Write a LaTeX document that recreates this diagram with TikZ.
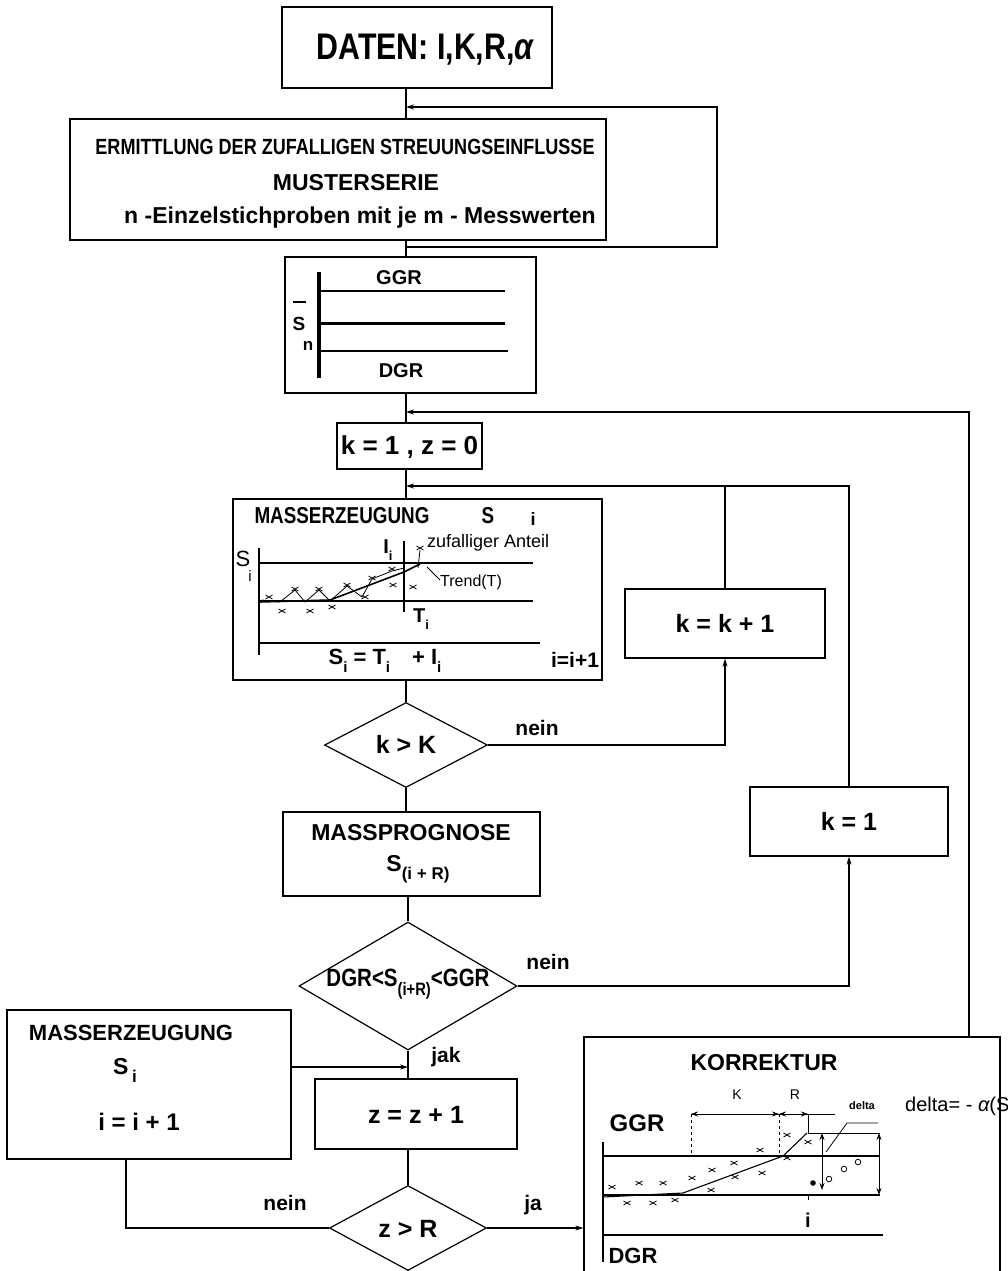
\documentclass[tikz,border=0pt]{standalone}
\usepackage{fontspec}
\setmainfont{Liberation Sans}
\newfontfamily\cf{Liberation Sans}[FakeStretch=0.82]
\usetikzlibrary{shapes.geometric,arrows.meta}
\newcommand\myfs[1]{\fontsize{#1}{#1}\selectfont}
\newcommand\sbi[1]{\raisebox{-0.35em}{\myfs{#1}i}}
\begin{document}
\begin{tikzpicture}[x=1pt,y=-1pt,line join=miter,
  box/.style={draw,line width=1.3pt,inner sep=0pt,rectangle},
  dia/.style={draw,diamond,line width=1.2pt,inner sep=0pt,aspect=2},
  ln/.style={line width=1.1pt},
  thin/.style={line width=0.8pt},
  arr/.style={line width=1.1pt,-{Stealth[length=8pt,width=5pt]}},
  dim/.style={line width=0.9pt,{Stealth[length=7pt,width=5pt]}-{Stealth[length=7pt,width=5pt]}},
  tc/.style={inner sep=0pt,font=\cf\bfseries\myfs{#1}},
  tn/.style={inner sep=0pt,font=\bfseries\myfs{#1}},
  tr/.style={inner sep=0pt,font=\myfs{#1}},
  cr/.style={line width=0.8pt}]
\useasboundingbox (0,0) rectangle (1007,1271);
\fill[white] (0,0) rectangle (1007,1271);

% spine and junction coordinates
\coordinate (sp) at (406,0);
\coordinate (j1) at (406,107);
\coordinate (j0) at (406,247);
\coordinate (lp) at (717,0);
\coordinate (j2) at (406,412);
\coordinate (rx) at (969,0);
\coordinate (j3) at (406,486);
\coordinate (j4) at (408,1067);
\coordinate (lx) at (126,0);

% ---------- boxes ----------
\node[box,minimum width=270pt,minimum height=81pt] (daten) at (417,47.5) {};
\node[tc=37] (tdaten) at (425,50) {DATEN: I,K,R,{\itshape α}};

\node[box,minimum width=536pt,minimum height=121pt] (ermit) at (338,179.5) {};
\node[tc=22] (e1) at (345,147) {ERMITTLUNG DER ZUFALLIGEN STREUUNGSEINFLUSSE};
\node[tn=23] (e2) at (356,183) {MUSTERSERIE};
\node[tn=23] (e3) at (360,218) {n -Einzelstichproben mit je m - Messwerten};

\node[box,minimum width=251pt,minimum height=136pt] (chart) at (410.5,325) {};
\draw[line width=3.5pt] (319,272) -- (319,378);
\draw[ln] (320,291) -- (505,291);
\draw[line width=3pt] (320,323) -- (505,323);
\draw[ln] (320,351) -- (508,351);
\node[tn=20] (cg) at (399,278) {GGR};
\node[tn=20] (cd) at (401,371) {DGR};
\node[tn=19] (cs) at (299,324) {S};
\draw[line width=1.2pt] (293,302) -- (306,302);
\node[tn=17] (cn) at (308,346) {n};

\node[box,minimum width=145pt,minimum height=46pt] (k1z0) at (409.5,446) {};
\node[tn=26] (tk1z0) at (409.5,447) {k = 1 , z = 0};

\node[box,minimum width=369pt,minimum height=181pt] (mass1) at (417.5,589.5) {};
\node[tc=23] (m1a) at (342,516) {MASSERZEUGUNG};
\node[tc=23] (m1b) at (488,516) {S};
\node[tn=18] (m1c) at (533,519) {i};
% inner chart
\draw[ln] (259,548) -- (259,655);
\draw[ln] (259,563) -- (533,563);
\draw[ln] (259,601) -- (533,601);
\draw[ln] (259,643) -- (540,643);
\draw[ln] (404,541) -- (404,612);
\draw[line width=1.6pt] (259,602) -- (330,600) -- (404,572) -- (420,564);
\draw[thin] (262,600) -- (280,602) -- (295,590) -- (305,602) -- (319,590) -- (330,601) -- (347,586) -- (362,597) -- (372,579) -- (392,571) -- (404,568);
\draw[thin] (440,580) -- (427,567);
\draw[thin] (420,550) -- (418,568);
\foreach \p in {(269,597),(282,611),(295,589),(310,611),(319,589),(332,607),(347,585),(365,597),(372,578),(392,569),(393,585),(413,587),(420,548)}
  \draw[cr] \p +(-3.5,-2) -- +(3.5,2) \p +(-3.5,2) -- +(3.5,-2);
\node[tr=22] (msS) at (243,559) {S};
\node[tr=15] (msi) at (250,576) {i};
\node[tn=20] (mI) at (388,550) {I\sbi{13}};
\node[tn=20] (mT) at (421,619) {T\sbi{13}};
\node[tr=18,anchor=west] (mz) at (427,543) {zufalliger Anteil};
\node[tr=16,anchor=west] (mtr) at (440,582) {Trend(T)};
\node[tn=22] (meq) at (385,661) {S\sbi{15} = T\sbi{15}\quad + I\sbi{15}};
\node[tn=21] (mii) at (575,660) {i=i+1};

\node[box,minimum width=200pt,minimum height=69pt] (kk1) at (725,623.5) {};
\node[tn=25] (tkk1) at (725,623) {k = k + 1};

\node[dia,minimum width=163pt,minimum height=85pt] (kK) at (406,745) {};
\node[tn=25] (tkK) at (406,744) {k > K};
\node[tn=21] (nein1) at (537,728) {nein};

\node[box,minimum width=257pt,minimum height=84pt] (mp) at (411.5,854) {};
\node[tn=23] (mpa) at (411,833) {MASSPROGNOSE};
\node[tn=23] (mpb) at (418,869) {S\raisebox{-0.35em}{\myfs{17}(i + R)}};

\node[box,minimum width=198pt,minimum height=69pt] (kone) at (849,821.5) {};
\node[tn=25] (tkone) at (849,821) {k = 1};

\node[dia,minimum width=218pt,minimum height=128pt] (dgr) at (408,986) {};
\node[tc=25] (tdgr) at (408,984) {DGR<S\raisebox{-0.35em}{\myfs{18}(i+R)}<GGR};
\node[tn=21] (nein2) at (548,962) {nein};

\node[box,minimum width=284pt,minimum height=149pt] (lbox) at (149,1084.5) {};
\node[tn=22] (la) at (131,1033) {MASSERZEUGUNG};
\node[tn=23] (lb) at (125,1070) {S\,\sbi{17}};
\node[tn=24] (lc) at (139,1122) {i = i + 1};

\node[tn=21] (jak) at (446,1057) {jak};

\node[box,minimum width=202pt,minimum height=70pt] (zz) at (416,1114) {};
\node[tn=25] (tzz) at (416,1115) {z = z + 1};

\node[dia,minimum width=157pt,minimum height=85pt] (zR) at (408,1228) {};
\node[tn=25] (tzR) at (408,1229) {z > R};
\node[tn=21] (nein3) at (285,1203) {nein};
\node[tn=21] (ja) at (533,1205) {ja};

% ---------- KORREKTUR ----------
\node[box,minimum width=416pt,minimum height=253pt] (korr) at (792,1163.5) {};
\node[tn=23] (kt) at (764,1063) {KORREKTUR};
\node[tr=14] (kK1) at (737,1095) {K};
\node[tr=14] (kR1) at (795,1095) {R};
\node[tn=24] (kg) at (637,1123) {GGR};
\node[tn=22] (kd) at (633,1256) {DGR};
\node[tn=20] (ki) at (808,1220) {i};
\node[tn=11] (kdl) at (862,1106) {delta};
\node[tr=20,anchor=west] (kdf) at (905,1106) {delta= - {\itshape α}(S};
\draw[thin] (691,1114) -- (835,1114);
\draw[dim] (691,1114) -- (779,1114);
\draw[dim] (779,1114) -- (808,1114);
\draw[thin,dashed] (691,1114) -- (691,1155);
\draw[thin,dashed] (779,1114) -- (779,1155);
\draw[thin] (808,1114) -- (808,1133);
\draw[ln] (603,1142) -- (603,1262);
\draw[ln] (603,1156) -- (880,1156);
\draw[ln] (603,1195) -- (880,1195);
\draw[ln] (603,1235) -- (883,1235);
\draw[thin] (808,1133) -- (880,1133);
\draw[dim] (822,1133) -- (822,1190);
\draw[dim] (879,1133) -- (879,1195);
\draw[thin] (808,1195) -- (808,1200);
\draw[ln] (603,1197) -- (683,1193) -- (783,1156) -- (807,1133);
\draw[thin] (826,1152) -- (847,1123) -- (878,1123);
\foreach \p in {(612,1187),(639,1183),(663,1183),(692,1178),(712,1170),(734,1163),(735,1177),(762,1173),(760,1150),(711,1190),(787,1158),(787,1135),(808,1142),(627,1203),(653,1203),(675,1200)}
  \draw[cr] \p +(-3.5,-2) -- +(3.5,2) \p +(-3.5,2) -- +(3.5,-2);
\fill (813,1183) circle (2.8pt);
\foreach \p in {(829,1179),(844,1169),(858,1162)}
  \draw[thin] \p circle (2.8pt);

% ---------- connectors ----------
\draw[ln] (daten.south -| sp) -- (ermit.north -| sp);
\draw[arr] (j0) -- (j0 -| lp) -- (lp |- j1) -- (j1);
\draw[ln] (ermit.south -| sp) -- (j0);
\draw[ln] (j0) -- (chart.north -| sp);
\draw[ln] (chart.south -| sp) -- (k1z0.north -| sp);
\draw[arr] (korr.north -| rx) -- (rx |- j2) -- (j2);
\draw[ln] (k1z0.south -| sp) -- (mass1.north -| sp);
\draw[arr] (kone.north) -- (kone.north |- j3) -- (j3);
\draw[ln] (kk1.north) -- (kk1.north |- j3);
\draw[ln] (mass1.south -| sp) -- (kK.north);
\draw[arr] (kK.east) -| (kk1.south);
\draw[ln] (kK.south) -- (mp.north -| kK.south);
\draw[ln] (mp.south -| dgr.north) -- (dgr.north);
\draw[arr] (dgr.east) -| (kone.south);
\draw[ln] (dgr.south) -- (zz.north -| dgr.south);
\draw[arr] (lbox.east |- j4) -- (j4);
\draw[ln] (zz.south -| zR.north) -- (zR.north);
\draw[ln] (zR.west) -| (lx |- lbox.south);
\draw[arr] (zR.east) -- (zR.east -| korr.west);
\end{tikzpicture}
\end{document}
